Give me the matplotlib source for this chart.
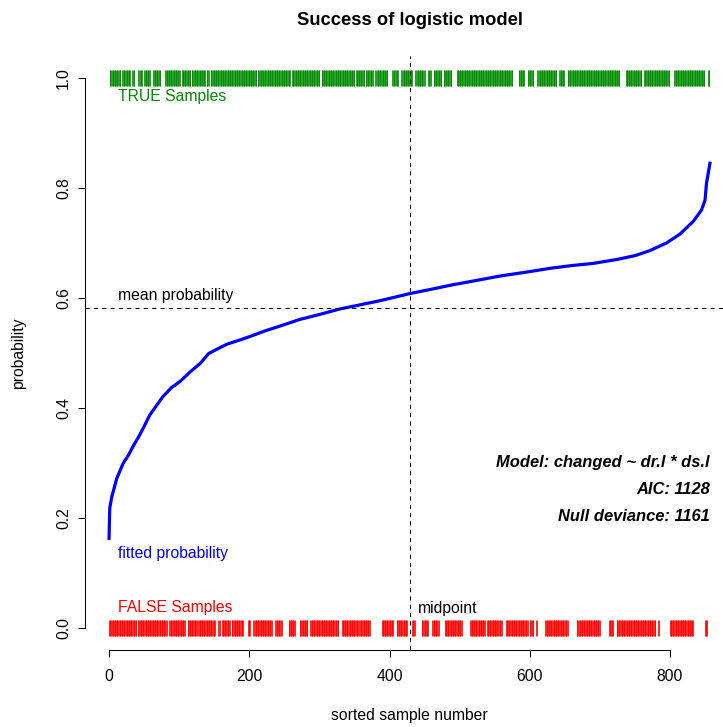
import numpy as np
import matplotlib
matplotlib.use('Agg')
import matplotlib.pyplot as plt

plt.rcParams['font.family'] = ['Liberation Sans', 'DejaVu Sans']

# fitted probabilities (sample number, probability)
curve_idx = [0, 1, 4, 11, 20, 28, 35, 42, 49, 58, 68, 77, 89, 101, 116, 130, 142, 154, 168,
             185, 201, 222, 244, 272, 300, 329, 356, 386, 429, 460, 486, 520, 558, 600,
             629, 660, 691, 724, 750, 771, 795, 814, 833, 845, 850, 852, 857]
curve_prob = [0.163, 0.218, 0.239, 0.272, 0.299, 0.315, 0.332, 0.347, 0.364, 0.387, 0.405,
              0.421, 0.437, 0.448, 0.466, 0.481, 0.499, 0.507, 0.516, 0.523, 0.530, 0.540,
              0.549, 0.561, 0.570, 0.580, 0.587, 0.595, 0.608, 0.616, 0.623, 0.631, 0.640,
              0.648, 0.654, 0.659, 0.663, 0.670, 0.677, 0.686, 0.700, 0.716, 0.739, 0.760,
              0.778, 0.808, 0.845]

# runs of sample numbers with observed TRUE / FALSE outcome
true_runs = [(1, 16), (19, 30), (33, 36), (42, 47), (50, 58), (63, 73), (80, 101),
             (104, 116), (118, 137), (139, 142), (145, 210), (212, 258), (261, 300),
             (303, 350), (352, 364), (366, 376), (380, 397), (404, 412), (417, 432),
             (437, 450), (455, 459), (463, 474), (477, 488), (496, 575), (584, 592),
             (597, 605), (611, 638), (642, 649), (654, 728), (737, 759), (763, 799),
             (806, 849), (854, 856)]
false_runs = [(0, 39), (41, 82), (86, 108), (112, 125), (127, 151), (156, 158), (161, 172),
              (175, 191), (198, 201), (206, 232), (237, 246), (256, 265), (272, 283),
              (287, 327), (332, 356), (358, 372), (389, 405), (410, 425), (432, 436),
              (446, 455), (461, 470), (479, 503), (515, 536), (539, 560), (566, 597),
              (600, 605), (609, 610), (622, 654), (667, 700), (713, 719), (724, 779),
              (783, 784), (800, 833), (850, 853)]

mean_prob = 0.582
midpoint = 429
model_text = ['Model: changed ~ dr.l * ds.l', 'AIC: 1128', 'Null deviance: 1161']

true_x = np.concatenate([np.arange(a, b + 1) for a, b in true_runs])
false_x = np.concatenate([np.arange(a, b + 1) for a, b in false_runs])

fs = 11.3
fig = plt.figure(figsize=(7.23, 7.27), dpi=100)
ax = fig.add_axes([85 / 723, 77 / 727, 649 / 723, 594 / 727])
ax.set_xlim(-34.3, 891.3)
ax.set_ylim(-0.04, 1.04)

green = '#008B00'
ax.plot(true_x, np.ones(len(true_x)), '|', color=green, ms=11.5, mew=0.7, alpha=0.85)
ax.plot(false_x, np.zeros(len(false_x)), '|', color='red', ms=12, mew=0.7, alpha=0.85)

ax.plot(curve_idx, curve_prob, color='blue', lw=2.3, solid_joinstyle='round')

ax.axhline(mean_prob, color='black', lw=0.75, ls=(0, (4, 4)))
ax.axvline(midpoint, color='black', lw=0.75, ls=(0, (4, 4)))

ax.text(13, 0.967, 'TRUE Samples', color=green, fontsize=fs, va='center')
ax.text(13, 0.038, 'FALSE Samples', color='red', fontsize=fs, va='center')
ax.text(13, 0.604, 'mean probability', color='black', fontsize=fs, va='center')
ax.text(13, 0.136, 'fitted probability', color='blue', fontsize=fs, va='center')
ax.text(440, 0.036, 'midpoint', color='black', fontsize=fs, va='center')
for t, yy in zip(model_text, [0.30, 0.251, 0.202]):
    ax.text(857, yy, t, ha='right', va='center', fontsize=11.9,
            fontweight='bold', fontstyle='italic')

# R style axes
for s in ['top', 'right']:
    ax.spines[s].set_visible(False)
ax.spines['left'].set_bounds(0, 1)
ax.spines['bottom'].set_bounds(0, 800)
ax.spines['left'].set_linewidth(0.75)
ax.spines['bottom'].set_linewidth(0.75)
ax.set_xticks([0, 200, 400, 600, 800])
ax.set_yticks([0, 0.2, 0.4, 0.6, 0.8, 1.0])
ax.set_yticklabels(['0.0', '0.2', '0.4', '0.6', '0.8', '1.0'], rotation=90, va='center')
ax.tick_params(length=5, width=0.75, labelsize=fs)
ax.tick_params(axis='x', pad=9)
ax.tick_params(axis='y', pad=5)

ax.set_xlabel('sorted sample number', fontsize=fs, labelpad=17)
ax.set_ylabel('probability', fontsize=fs, labelpad=22)
ax.set_title('Success of logistic model', fontsize=13.2, fontweight='bold', pad=22)

fig.savefig('out.png', dpi=100)
